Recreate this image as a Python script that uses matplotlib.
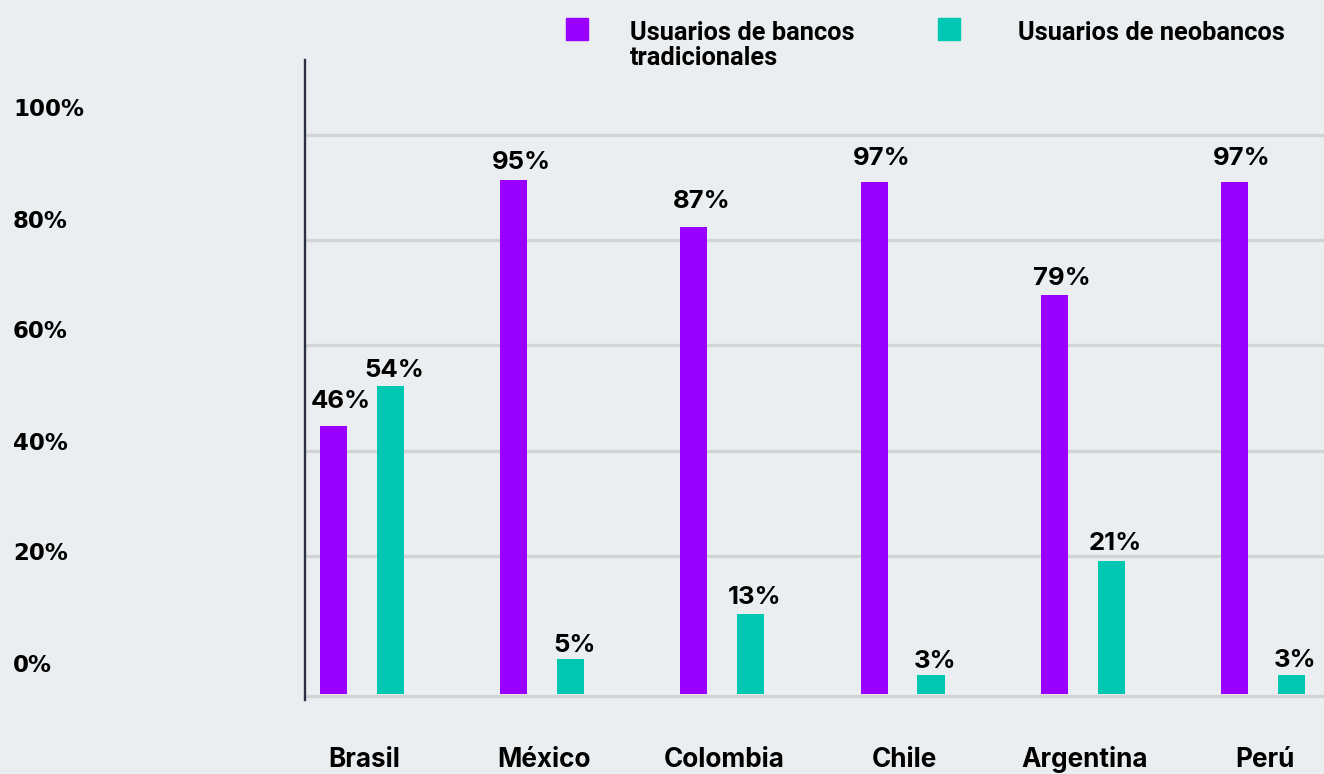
import matplotlib
matplotlib.use("Agg")
import matplotlib.pyplot as plt
from matplotlib.patches import Rectangle
import matplotlib.transforms as mtransforms

# data
countries = ["Brasil", "México", "Colombia", "Chile", "Argentina", "Perú"]
trad_labels = [46, 95, 87, 97, 79, 97]      # printed values, bancos tradicionales
neo_labels = [54, 5, 13, 3, 21, 3]          # printed values, neobancos
# bar heights as drawn in the picture (same % scale as the grid)
trad_heights = [50.9, 97.7, 88.7, 97.3, 75.8, 97.3]
neo_heights = [58.5, 6.7, 15.2, 3.6, 25.3, 3.6]
ytick_labels = ["100%", "80%", "60%", "40%", "20%", "0%"]
ytick_values = [100, 80, 60, 40, 20, 0]
grid_levels = [-0.4, 26.2, 46.2, 66.3, 86.3, 106.2]

# label gap above each bar (points), the original is not consistent
trad_gap = [13, 7.5, 14, 12, 7.5, 12.5]
neo_gap = [6.5, 4.5, 7.5, 5, 7.5, 6]

PURPLE = "#9900ff"
TEAL = "#00c7b1"
BG = "#eaeef0"
GRID = "#d2d4d5"

plt.rcParams["font.family"] = ["Inter", "DejaVu Sans"]

W, H = 1324, 774
fig = plt.figure(figsize=(W / 100, H / 100), dpi=100)
fig.patch.set_facecolor(BG)

# axes placed in pixel terms
left_px, right_px, top_px, bottom_px = 305, 1324, 60, 700
ax = fig.add_axes([left_px / W, (H - bottom_px) / H,
                   (right_px - left_px) / W, (bottom_px - top_px) / H])
ax.set_facecolor(BG)

k = 5.2625  # px per % unit
ax.set_ylim((694 - bottom_px) / k, (694 - top_px) / k)
ax.set_xlim(-0.158, 5.497)

bw = 0.15
off = 0.316
xs = list(range(len(countries)))

for g in grid_levels:
    ax.axhline(g, color=GRID, lw=2.4, zorder=0)

ax.bar(xs, trad_heights, width=bw, color=PURPLE, zorder=2)
ax.bar([x + off for x in xs], neo_heights, width=bw, color=TEAL, zorder=2)

for x, h, v, gp in zip(xs, trad_heights, trad_labels, trad_gap):
    ax.annotate("%d%%" % v, (x, h), xytext=(5.5, gp), textcoords="offset points",
                ha="center", va="baseline", fontsize=18.5, fontweight="bold", color="black")
for x, h, v, gp in zip(xs, neo_heights, neo_labels, neo_gap):
    ax.annotate("%d%%" % v, (x + off, h), xytext=(3, gp), textcoords="offset points",
                ha="center", va="baseline", fontsize=18.5, fontweight="bold", color="black")

# country labels under the axis
trans = mtransforms.blended_transform_factory(ax.transData, ax.transAxes)
for x, c in zip(xs, countries):
    ax.text(x + 0.17, -0.104, c, transform=trans, ha="center", va="baseline",
            fontsize=18.8, fontweight="bold", color="black", clip_on=False)

# y labels, set far left of the axis line
for v, lab in zip(ytick_values, ytick_labels):
    ypx = 665 - v * 5.55
    fig.text(13 / W, (H - ypx) / H, lab, ha="left", va="center",
             fontsize=16.5, fontweight="bold", family="DejaVu Sans", color="black")

ax.set_xticks([])
ax.set_yticks([])
for s in ["top", "right", "bottom"]:
    ax.spines[s].set_visible(False)
ax.spines["left"].set_color("#2b3245")
ax.spines["left"].set_linewidth(1.7)

# legend
fig.patches.append(Rectangle((566 / W, (H - 40) / H), 22 / W, 22 / H,
                             transform=fig.transFigure, color=PURPLE, zorder=3))
fig.patches.append(Rectangle((938 / W, (H - 40) / H), 22 / W, 22 / H,
                             transform=fig.transFigure, color=TEAL, zorder=3))
fig.text(630 / W, (H - 20.5) / H, "Usuarios de bancos\ntradicionales", ha="left", va="top",
         fontsize=18.3, fontweight="bold", family=["Roboto", "DejaVu Sans"], linespacing=1.1)
fig.text(1018 / W, (H - 20.5) / H, "Usuarios de neobancos", ha="left", va="top",
         fontsize=18.3, fontweight="bold", family=["Roboto", "DejaVu Sans"])

fig.savefig("out.png", dpi=100, facecolor=BG)
